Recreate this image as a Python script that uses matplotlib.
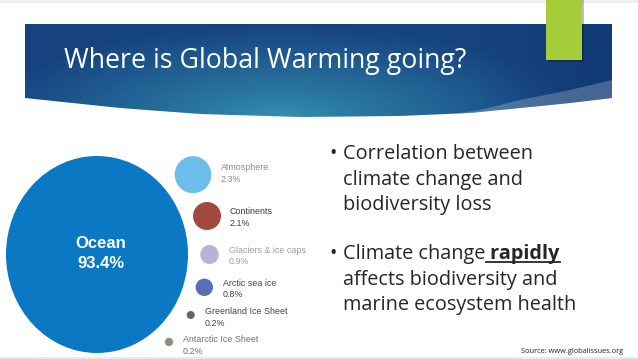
import matplotlib
matplotlib.use('Agg')
import matplotlib.pyplot as plt
import numpy as np
from matplotlib.patches import Ellipse, Rectangle, PathPatch, Polygon
from matplotlib.path import Path

# ---------------- data ----------------
categories = ['Ocean', 'Atmosphere', 'Continents', 'Glaciers & ice caps',
              'Arctic sea ice', 'Greenland Ice Sheet', 'Antarctic Ice Sheet']
shares = [93.4, 2.3, 2.1, 0.9, 0.8, 0.2, 0.2]
title = 'Where is Global Warming going?'
bullet1 = ['Correlation between', 'climate change and', 'biodiversity loss']
bullet2_first = ['Climate change', ' rapidly']
bullet2_rest = ['affects biodiversity and', 'marine ecosystem health']
source = 'Source: www.globalissues.org'

# ---------------- layout / style ----------------
W, H = 638, 359
fig = plt.figure(figsize=(W / 100, H / 100), dpi=100)
ax = fig.add_axes([0, 0, 1, 1])
ax.set_xlim(0, W)
ax.set_ylim(H, 0)
ax.axis('off')
fig.patch.set_facecolor('white')

# thin top / bottom strips
ax.add_patch(Rectangle((0, 0), W, 2.5, color='#eeeff1', lw=0, zorder=0))
ax.add_patch(Rectangle((0, 356.5), W, 3, color='#e6ecf3', lw=0, zorder=0))

# header band
xs = np.linspace(25, 612, 60)
bot = np.interp(xs, [25, 120, 200, 300, 400, 470, 520, 570, 612],
                [98, 108, 114, 117, 116, 113, 108, 103, 98])
verts = [(25, 24), (612, 24)] + list(zip(xs[::-1], bot[::-1])) + [(25, 24)]
hdr_path = Path(verts)
hdr = PathPatch(hdr_path, facecolor='none', edgecolor='none')
ax.add_patch(hdr)

gx = np.linspace(25, 612, 400)
gy = np.linspace(24, 120, 80)
GX, GY = np.meshgrid(gx, gy)
d = np.sqrt(((GX - 280) / 300) ** 2 + ((GY - 118) / 95) ** 2)
t = np.clip(d, 0, 1) ** 0.9
teal = np.array([0x33, 0x90, 0xb0]) / 255
navy = np.array([0x16, 0x42, 0x80]) / 255
img = teal[None, None, :] * (1 - t[..., None]) + navy[None, None, :] * t[..., None]
# darker towards right side
rfac = np.clip((GX - 480) / 130, 0, 1)[..., None]
dark = np.array([0x10, 0x36, 0x6e]) / 255
img = img * (1 - 0.6 * rfac) + dark * 0.6 * rfac
im = ax.imshow(img, extent=(25, 612, 120, 24), aspect='auto', zorder=1,
               interpolation='bilinear')
im.set_clip_path(hdr)

# light swoosh bottom right
sx = np.linspace(440, 612, 30)
up = np.interp(sx, [440, 480, 520, 570, 612], [116, 110, 100, 90, 80])
lo = np.interp(sx, [25, 120, 200, 300, 400, 470, 520, 570, 612],
               [98, 108, 114, 117, 116, 113, 108, 103, 98])
sw = Polygon(list(zip(sx, up)) + list(zip(sx[::-1], lo[::-1])),
             closed=True, facecolor='#ffffff', alpha=0.22, lw=0, zorder=2)
ax.add_patch(sw)
sw.set_clip_path(hdr)

# green tab with shadow
ax.add_patch(Rectangle((548, 0), 36, 62, color='#000000', alpha=0.25, lw=0, zorder=3))
ax.add_patch(Rectangle((546, 0), 36, 60, color='#a5cd39', lw=0, zorder=4))

fig.canvas.draw()
renderer = fig.canvas.get_renderer()


def fit_text(x, y, s, width, **kw):
    tt = ax.text(x, y, s, fontsize=10, **kw)
    bb = tt.get_window_extent(renderer)
    tt.set_fontsize(10 * width / bb.width)
    return tt


# title
fit_text(64, 68, title, 403, color='white', family='Open Sans',
         va='baseline', ha='left', zorder=6)

# bubbles
centers = [(97, 254.5), (193, 174.7), (207, 216), (209.5, 254.5),
           (204.3, 287.3), (190.7, 315), (169, 342)]
radii = [(91, 98.5), (18.3, 18.5), (14, 14), (9.3, 9.5), (8.7, 8.7), (4, 4), (4.2, 4.2)]
colors = ['#0b78c3', '#6cbde9', '#9f4a3c', '#b7b2d9', '#5a6eb5', '#5e675c', '#8b9083']
for (cx, cy), (rx, ry), c in zip(centers, radii, colors):
    ax.add_patch(Ellipse((cx, cy), 2 * rx, 2 * ry, facecolor=c, edgecolor='none', zorder=5))

# ocean label
ax.text(101, 244, categories[0], color='white', family='Liberation Sans',
        fontweight='bold', fontsize=12, ha='center', va='center', zorder=6)
ax.text(101, 264, f'{shares[0]}%', color='white', family='Liberation Sans',
        fontweight='bold', fontsize=12, ha='center', va='center', zorder=6)

# small bubble labels
label_pos = [(220.7, 167, 179), (230, 212, 223.5), (228.7, 250.7, 261),
             (223, 284, 294.5), (205, 312, 323), (183, 340, 351)]
label_col = ['#7c8ca6', '#3c3c3c', '#9c9cab', '#3f4352', '#3c4646', '#6e6e6e']
for (lx, y1, y2), c, name, v in zip(label_pos, label_col, categories[1:], shares[1:]):
    ax.text(lx, y1, name, color=c, family='Liberation Sans', fontsize=6.4,
            ha='left', va='center', zorder=6)
    ax.text(lx, y2, f'{v}%', color=c, family='Liberation Sans', fontsize=6.4,
            ha='left', va='center', zorder=6)

# bullets
tc = '#262626'
t0 = fit_text(343, 159.3, bullet1[0], 189, color=tc, family='Open Sans',
              va='baseline', ha='left')
fs = t0.get_fontsize()
for i, s in enumerate(bullet1[1:]):
    ax.text(343, 184.7 + 25.2 * i, s, color=tc, family='Open Sans',
            fontsize=fs, va='baseline', ha='left')
ax.text(329, 159.3, '•', color=tc, family='Open Sans', fontsize=fs,
        va='baseline', ha='left')
ax.text(329, 259.3, '•', color=tc, family='Open Sans', fontsize=fs,
        va='baseline', ha='left')
ta = ax.text(343, 259.3, bullet2_first[0], color=tc, family='Open Sans',
             fontsize=fs, va='baseline', ha='left')
bba = ta.get_window_extent(renderer)
xend = bba.x1
tb = ax.text(xend, 259.3, bullet2_first[1], color=tc, family='Open Sans',
             fontweight='bold', fontsize=fs, va='baseline', ha='left')
bbb = tb.get_window_extent(renderer)
ax.plot([xend + 1, bbb.x1], [262, 262], color=tc, lw=1.3)
for i, s in enumerate(bullet2_rest):
    ax.text(343, 284.5 + 25.5 * i, s, color=tc, family='Open Sans',
            fontsize=fs, va='baseline', ha='left')

# source
fit_text(520.7, 353, source, 102.5, color='#222222', family='Open Sans',
         va='baseline', ha='left')

fig.savefig('out.png', dpi=100)
